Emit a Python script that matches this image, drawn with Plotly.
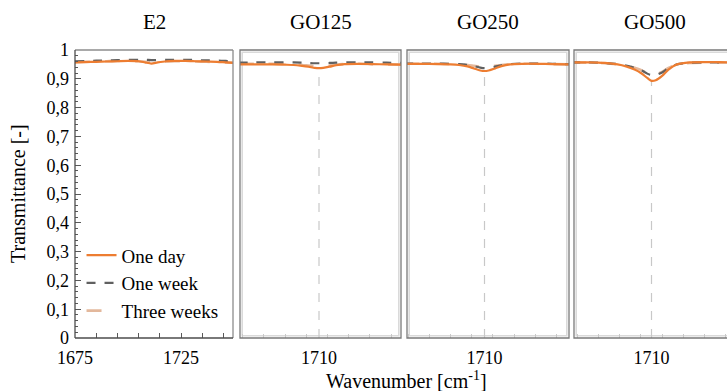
import plotly.graph_objects as go

# ---------------- data ----------------
panels = ["E2", "GO125", "GO250", "GO500"]
series_names = ["One day", "One week", "Three weeks"]

x_e2 = [1675, 1680, 1685, 1690, 1695, 1700, 1705, 1708, 1711, 1714, 1718, 1722, 1727, 1732, 1737, 1742, 1746, 1750]
e2_day = [0.957, 0.958, 0.959, 0.960, 0.961, 0.962, 0.961, 0.957, 0.953, 0.957, 0.961, 0.962, 0.962, 0.961, 0.960, 0.959, 0.957, 0.955]
e2_week = [0.961, 0.962, 0.963, 0.964, 0.965, 0.966, 0.966, 0.966, 0.965, 0.965, 0.966, 0.966, 0.966, 0.965, 0.964, 0.963, 0.962, 0.961]
e2_three = [0.958, 0.959, 0.960, 0.961, 0.962, 0.962, 0.961, 0.959, 0.957, 0.958, 0.960, 0.961, 0.961, 0.960, 0.959, 0.958, 0.957, 0.956]

x_go = [1672, 1680, 1688, 1694, 1698, 1702, 1705, 1708, 1710, 1712, 1715, 1718, 1722, 1728, 1735, 1742, 1750]
go125_day = [0.950, 0.950, 0.950, 0.949, 0.948, 0.945, 0.942, 0.938, 0.937, 0.938, 0.942, 0.947, 0.951, 0.952, 0.951, 0.950, 0.949]
go125_week = [0.956, 0.957, 0.957, 0.957, 0.957, 0.956, 0.955, 0.954, 0.954, 0.954, 0.955, 0.956, 0.957, 0.957, 0.957, 0.956, 0.955]
go125_three = [0.952, 0.952, 0.952, 0.951, 0.950, 0.948, 0.946, 0.944, 0.943, 0.944, 0.946, 0.949, 0.951, 0.952, 0.951, 0.950, 0.949]

go250_day = [0.952, 0.952, 0.951, 0.950, 0.948, 0.943, 0.936, 0.929, 0.927, 0.929, 0.936, 0.944, 0.950, 0.952, 0.952, 0.951, 0.950]
go250_week = [0.953, 0.953, 0.953, 0.952, 0.951, 0.948, 0.944, 0.939, 0.937, 0.938, 0.942, 0.947, 0.951, 0.953, 0.953, 0.952, 0.951]
go250_three = [0.952, 0.952, 0.952, 0.951, 0.950, 0.948, 0.945, 0.942, 0.941, 0.942, 0.945, 0.948, 0.951, 0.952, 0.952, 0.951, 0.950]

go500_day = [0.957, 0.957, 0.955, 0.950, 0.943, 0.932, 0.920, 0.903, 0.893, 0.895, 0.910, 0.932, 0.950, 0.957, 0.958, 0.958, 0.957]
go500_week = [0.957, 0.957, 0.955, 0.951, 0.946, 0.938, 0.930, 0.918, 0.912, 0.913, 0.922, 0.937, 0.950, 0.956, 0.957, 0.957, 0.956]
go500_three = [0.956, 0.956, 0.954, 0.950, 0.945, 0.938, 0.931, 0.920, 0.915, 0.916, 0.924, 0.938, 0.950, 0.955, 0.956, 0.956, 0.955]

peak_wavenumber = 1710

y_tickvals = [0, 0.1, 0.2, 0.3, 0.4, 0.5, 0.6, 0.7, 0.8, 0.9, 1]
y_ticktext = ["0", "0,1", "0,2", "0,3", "0,4", "0,5", "0,6", "0,7", "0,8", "0,9", "1"]
e2_xticks = [1675, 1725]
go_xticks = [1710]

# ---------------- styling ----------------
FONT = "Times New Roman, Liberation Serif, serif"
colors = ["#ED7D31", "#606060", "#E3B89C"]
dashes = ["solid", "dash", "longdash"]
widths = [2.2, 2.2, 2.6]

W, H = 727, 391
ML, MR, MT, MB = 75, 0, 50, 53
plot_w = W - ML - MR
plot_h = H - MT - MB
panel_px = [(0, 158), (165, 326), (332, 494), (499, 660)]
visible_right = W - ML
domains = [(a / plot_w, min(b, visible_right) / plot_w) for a, b in panel_px]
px_per_unit = 2.12
ranges = [
    [1675, 1675 + 158 / px_per_unit],
    [1710 - 79 / px_per_unit, 1710 + 82 / px_per_unit],
    [1710 - 77.5 / px_per_unit, 1710 + 84.5 / px_per_unit],
    [1710 - 77.5 / px_per_unit, 1710 + (visible_right - 499 - 77.5) / px_per_unit],
]

data_sets = [
    (x_e2, [e2_day, e2_week, e2_three]),
    (x_go, [go125_day, go125_week, go125_three]),
    (x_go, [go250_day, go250_week, go250_three]),
    (x_go, [go500_day, go500_week, go500_three]),
]

fig = go.Figure()

for i, (xs, ys_list) in enumerate(data_sets):
    xa = "x" if i == 0 else f"x{i+1}"
    ya = "y" if i == 0 else f"y{i+1}"
    if i > 0:
        peak_val = ys_list[0][xs.index(peak_wavenumber)]
        fig.add_trace(go.Scatter(
            x=[peak_wavenumber, peak_wavenumber], y=[0, peak_val],
            mode="lines", line=dict(color="#C8C8C8", width=1.2, dash="dash"),
            xaxis=xa, yaxis=ya, showlegend=False, hoverinfo="skip"))
    for k in [2, 1, 0]:
        fig.add_trace(go.Scatter(
            x=xs, y=ys_list[k], mode="lines", name=series_names[k],
            line=dict(color=colors[k], width=widths[k], dash=dashes[k], shape="spline", smoothing=0.8),
            xaxis=xa, yaxis=ya, showlegend=(i == 0), legendgroup=series_names[k],
            legendrank=k + 1))

layout = dict(
    width=W, height=H,
    margin=dict(l=ML, r=MR, t=MT, b=MB),
    paper_bgcolor="white", plot_bgcolor="white",
    font=dict(family=FONT, size=18, color="black"),
    showlegend=True,
    legend=dict(x=0.01, y=0.353, xanchor="left", yanchor="top",
                bgcolor="rgba(0,0,0,0)", font=dict(family=FONT, size=19),
                tracegroupgap=2, itemwidth=30, traceorder="normal"),
)

for i in range(4):
    xkey = "xaxis" if i == 0 else f"xaxis{i+1}"
    ykey = "yaxis" if i == 0 else f"yaxis{i+1}"
    ya = "y" if i == 0 else f"y{i+1}"
    xa = "x" if i == 0 else f"x{i+1}"
    tv = e2_xticks if i == 0 else go_xticks
    if i == 0:
        minor = dict(ticks="inside", dtick=10, tick0=1675, ticklen=5, tickcolor="#595959", tickwidth=1)
        xticks = "inside"
    elif i == 3:
        minor = dict(ticks="inside", dtick=10, tick0=1705, ticklen=4, tickcolor="#C8C8C8", tickwidth=1)
        xticks = ""
    else:
        minor = dict(ticks="inside", dtick=10, tick0=1704, ticklen=4, tickcolor="#C8C8C8", tickwidth=1)
        xticks = ""
    layout[xkey] = dict(
        domain=list(domains[i]), range=ranges[i], anchor=ya,
        tickmode="array", tickvals=tv, ticktext=[str(v) for v in tv],
        ticks=xticks, ticklen=5, tickcolor="#595959",
        minor=minor, showgrid=False, zeroline=False, showline=False,
        tickfont=dict(family=FONT, size=18), ticklabelstandoff=7,
    )
    ydict = dict(domain=[0, 1], range=[0, 1], anchor=xa, showgrid=False,
                 zeroline=False, showline=False)
    if i == 0:
        ydict.update(tickmode="array", tickvals=y_tickvals, ticktext=y_ticktext,
                     ticks="inside", ticklen=6, tickcolor="#595959",
                     minor=dict(ticks="inside", dtick=0.02, ticklen=3, tickcolor="#595959"),
                     tickfont=dict(family=FONT, size=18), ticklabelstandoff=5)
    else:
        ydict.update(showticklabels=False, ticks="")
    layout[ykey] = ydict

shapes = []
for i in range(4):
    a, b = panel_px[i]
    x0, x1 = a / plot_w, b / plot_w
    if i == 0:
        shapes.append(dict(type="line", xref="paper", yref="paper", x0=x0, x1=x1, y0=1, y1=1,
                           line=dict(color="#8C8C8C", width=1.3)))
        shapes.append(dict(type="line", xref="paper", yref="paper", x0=x1, x1=x1, y0=0, y1=1,
                           line=dict(color="#8C8C8C", width=1.3)))
        shapes.append(dict(type="line", xref="paper", yref="paper", x0=x0, x1=x0, y0=0, y1=1,
                           line=dict(color="#4D4D4D", width=1.3)))
        shapes.append(dict(type="line", xref="paper", yref="paper", x0=x0, x1=x1, y0=0, y1=0,
                           line=dict(color="#4D4D4D", width=1.3)))
    else:
        dx, dy = 2.2 / plot_w, 2.2 / plot_h
        shapes.append(dict(type="rect", xref="paper", yref="paper", x0=x0 + dx, x1=x1 - dx,
                           y0=dy, y1=1 - dy, line=dict(color="#DADADA", width=1.6), layer="below"))
        shapes.append(dict(type="rect", xref="paper", yref="paper", x0=x0, x1=x1, y0=0, y1=1,
                           line=dict(color="#7A7A7A", width=1.3)))
layout["shapes"] = shapes

annotations = []
for i, name in enumerate(panels):
    a, b = panel_px[i]
    annotations.append(dict(text=name, xref="paper", yref="paper", x=(a + b) / 2 / plot_w,
                            y=(H - MB - 22) / plot_h, xanchor="center", yanchor="middle",
                            showarrow=False, font=dict(family=FONT, size=21)))
annotations.append(dict(text="Transmittance [-]", xref="paper", yref="paper",
                        x=(18 - ML) / plot_w, y=0.5, xanchor="center", yanchor="middle",
                        textangle=-90, showarrow=False, font=dict(family=FONT, size=20)))
annotations.append(dict(text="Wavenumber [cm<sup>-1</sup>]", xref="paper", yref="paper",
                        x=(407 - ML) / plot_w, y=-(380 - (H - MB)) / plot_h,
                        xanchor="center", yanchor="middle", showarrow=False,
                        font=dict(family=FONT, size=20)))
layout["annotations"] = annotations

fig.update_layout(**layout)
fig.write_html("out.html")
